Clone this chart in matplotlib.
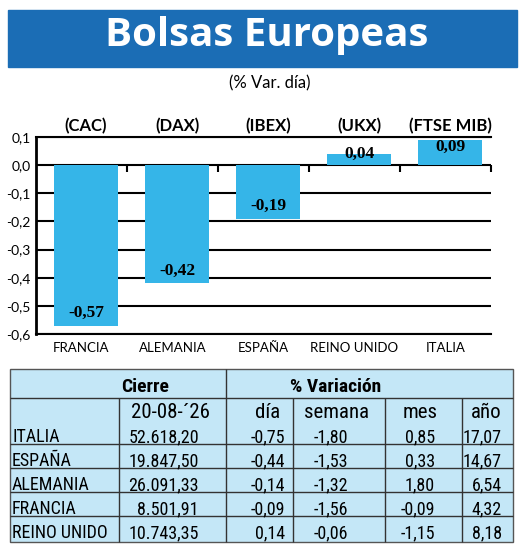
import numpy as np
import matplotlib.pyplot as plt
from matplotlib.patches import Rectangle
from matplotlib import font_manager

# Datos del gráfico (% Var. día)
paises = ["FRANCIA", "ALEMANIA", "ESPAÑA", "REINO UNIDO", "ITALIA"]
indices = ["(CAC)", "(DAX)", "(IBEX)", "(UKX)", "(FTSE MIB)"]
var_dia = [-0.57, -0.42, -0.19, 0.04, 0.09]
y_ticks = [0.1, 0.0, -0.1, -0.2, -0.3, -0.4, -0.5, -0.6]

# Datos de la tabla
tabla_paises = ["ITALIA", "ESPAÑA", "ALEMANIA", "FRANCIA", "REINO UNIDO"]
cierre = ["52.618,20", "19.847,50", "26.091,33", "8.501,91", "10.743,35"]
dia = ["-0,75", "-0,44", "-0,14", "-0,09", "0,14"]
semana = ["-1,80", "-1,53", "-1,32", "-1,56", "-0,06"]
mes = ["0,85", "0,33", "1,80", "-0,09", "-1,15"]
anio = ["17,07", "14,67", "6,54", "4,32", "8,18"]
fecha = "20-08-´26"
cabeceras = ["día", "semana", "mes", "año"]

AZUL_TITULO = "#1b6db5"
AZUL_BARRA = "#35b5e8"
AZUL_TABLA = "#c4e7f7"
FUENTE = ["Lato", "DejaVu Sans"]

# fuente estrecha si existe
nombres = {f.name for f in font_manager.fontManager.ttflist}
ESTRECHA = [n for n in ["Roboto Condensed", "DejaVu Sans Condensed", "Liberation Sans Narrow"]
            if n in nombres] + ["Lato", "DejaVu Sans"]

W, H = 520, 547
fig = plt.figure(figsize=(W / 100, H / 100), dpi=100)

# capa de fondo en pixeles
bg = fig.add_axes([0, 0, 1, 1])
bg.set_xlim(0, W)
bg.set_ylim(H, 0)
bg.axis("off")

# cabecera
bg.add_patch(Rectangle((8, 10), 509, 57, color=AZUL_TITULO))
bg.text(267, 46, "Bolsas Europeas", ha="center", va="baseline", color="white",
        fontsize=29, fontweight="bold", family=["Open Sans", "DejaVu Sans"])
bg.text(270, 83, "(% Var. día)", ha="center", va="center", fontsize=12, family=FUENTE)

# grafico de barras
ax = fig.add_axes([36 / W, 1 - 334 / H, 455 / W, 197 / H])
x = np.arange(len(paises))
ax.bar(x + 0.05, var_dia, width=0.71, color=AZUL_BARRA, zorder=3)
ax.set_xlim(-0.5, len(paises) - 0.5)
ax.set_ylim(-0.6, 0.1)
ax.set_yticks(y_ticks, [f"{v:.1f}".replace(".", ",") for v in y_ticks], family=FUENTE)
ax.set_xticks(x, paises, family=FUENTE)
ax.tick_params(axis="y", length=0, pad=4, labelsize=10)
ax.tick_params(axis="x", length=0, pad=6, labelsize=9.5)
ax.yaxis.grid(True, color="black", lw=1.5)
ax.set_axisbelow(True)
ax.spines["right"].set_visible(False)
ax.spines["left"].set_linewidth(2)
ax.spines["top"].set_linewidth(1.5)
ax.spines["bottom"].set_linewidth(1.5)

# marcas en la linea del cero
sec = ax.secondary_xaxis(6 / 7)
sec.set_alignment("bottom")
sec.set_xticks(x + 0.5, [""] * len(x))
sec.tick_params(direction="out", length=5, width=1.5, color="black")
sec.spines["top"].set_visible(False)
sec.spines["bottom"].set_visible(False)

for xi, v, ind in zip(x, var_dia, indices):
    yl = v + 0.045 if v < 0 else v / 2 + 0.02
    ax.text(xi + 0.05, yl, f"{v:.2f}".replace(".", ","), ha="center", va="center",
            fontsize=12.5, fontweight="bold", family=["Liberation Serif", "DejaVu Serif"], zorder=4)
    ax.text(xi + 0.05, 1.056, ind, transform=ax.get_xaxis_transform(), ha="center",
            va="center", fontsize=12, fontweight="bold", family=FUENTE)

# tabla
t_izq, t_der, t_sup, t_inf = 10, 513, 369, 542
bg.add_patch(Rectangle((t_izq, t_sup), t_der - t_izq, t_inf - t_sup,
                       facecolor=AZUL_TABLA, edgecolor="#555555", lw=1))
fila_hdr = 398
fila0 = 420
alto = 24
bg.hlines(fila_hdr, t_izq, t_der, color="#333333", lw=1)
bg.hlines([fila0 + alto * (i + 1) for i in range(len(tabla_paises) - 1)],
          t_izq, t_der, color="#333333", lw=1)
bg.vlines(226, t_sup, t_inf, color="#333333", lw=1)
bg.vlines([119, 293, 385, 462], fila_hdr, t_inf, color="#333333", lw=1)

bg.text(145, 392, "Cierre", ha="center", va="baseline", fontsize=14,
        fontweight="bold", family=ESTRECHA)
bg.text(336, 392, "% Variación", ha="center", va="baseline", fontsize=14,
        fontweight="bold", family=ESTRECHA)
bg.text(171, 418, fecha, ha="center", va="baseline", fontsize=15, family=ESTRECHA)
for cx, c in zip([268, 337, 420, 486], cabeceras):
    bg.text(cx, 418, c, ha="center", va="baseline", fontsize=15, family=ESTRECHA)

columnas = [cierre, dia, semana, mes, anio]
x_der = [199, 285, 348, 435, 502]
for i, p in enumerate(tabla_paises):
    yb = fila0 + alto * (i + 1) - 2
    bg.text(12, yb, p, ha="left", va="baseline", fontsize=13, family=ESTRECHA)
    for col, xr in zip(columnas, x_der):
        bg.text(xr, yb, col[i], ha="right", va="baseline", fontsize=13, family=ESTRECHA)

fig.savefig("out.png", dpi=100)
